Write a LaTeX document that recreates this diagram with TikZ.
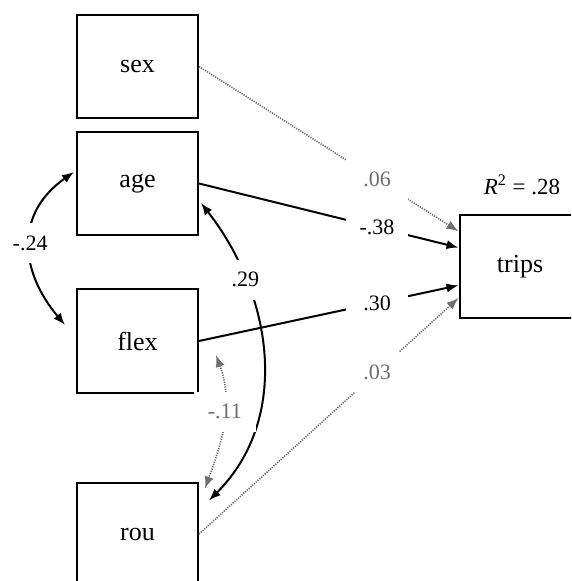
\documentclass[tikz,border=0pt]{standalone}
\usepackage{fontspec}
\setmainfont{Liberation Serif}
\usetikzlibrary{arrows.meta, calc}
\definecolor{nsgray}{RGB}{110,110,110}

\begin{document}
\begin{tikzpicture}[x=0.5pt, y=-0.5pt, >={Latex[length=6pt, width=4.6pt]},
    var/.style={draw, line width=1pt, minimum width=60.5pt, minimum height=51.5pt, inner sep=0pt, font=\fontsize{13}{15}\selectfont},
    coef/.style={fill=white, minimum width=31pt, minimum height=20pt, inner sep=0pt, font=\fontsize{11}{13}\selectfont},
    sig/.style={->, line width=1pt},
    ns/.style={->, nsgray, line width=0.8pt, dash pattern=on 0.6pt off 0.6pt},
    nslab/.style={coef, text=nsgray}]
    \clip (0,0) rectangle (571,581);

    \node[var] (sex) at (137.5,66.5) {sex};
    \node[var] (age) at (137.5,183.5) {age};
    \node[var] (flex) at (137.5,341) {flex};
    \node[var] (rou) at (137.5,534) {rou};
    \node[var] (trips) at (520,266.5) {trips};
    \node[font=\fontsize{11.5}{14}\selectfont] (rsq) at (522,185) {\textit{R}\textsuperscript{2} = .28};

    \coordinate (t1) at ($(trips.north west)!0.165!(trips.south west)$);
    \coordinate (t2) at ($(trips.north west)!0.32!(trips.south west)$);
    \coordinate (t3) at ($(trips.north west)!0.68!(trips.south west)$);
    \coordinate (t4) at ($(trips.north west)!0.80!(trips.south west)$);

    \draw[ns] (sex.east) -- node[nslab, pos=0.686] {.06} (t1);
    \draw[sig] (age.east) -- node[coef, pos=0.686] {-.38} (t2);
    \draw[sig] (flex.east) -- node[coef, pos=0.686] {.30} (t3);
    \draw[ns] (rou.east) -- node[nslab, pos=0.686] {.03} (t4);

    \draw[<->, line width=1pt] ($(age.west)+(-2,-11.5)$) to[out=215, in=130, looseness=1.2]
        node[coef, pos=0.5] {-.24} ($(flex.west)+(-11,-16)$);
    \draw[<->, line width=1pt] ($(age.east)+(2,19.5)$) to[out=-52, in=45]
        node[coef, pos=0.26] {.29} ($(rou.north east)+(10,19)$);
    \draw[ns, <->] ($(flex.east)+(17,14)$) to[out=-70, in=70]
        node[nslab, pos=0.42] {-.11} ($(rou.north east)+(6,7)$);
\end{tikzpicture}
\end{document}
